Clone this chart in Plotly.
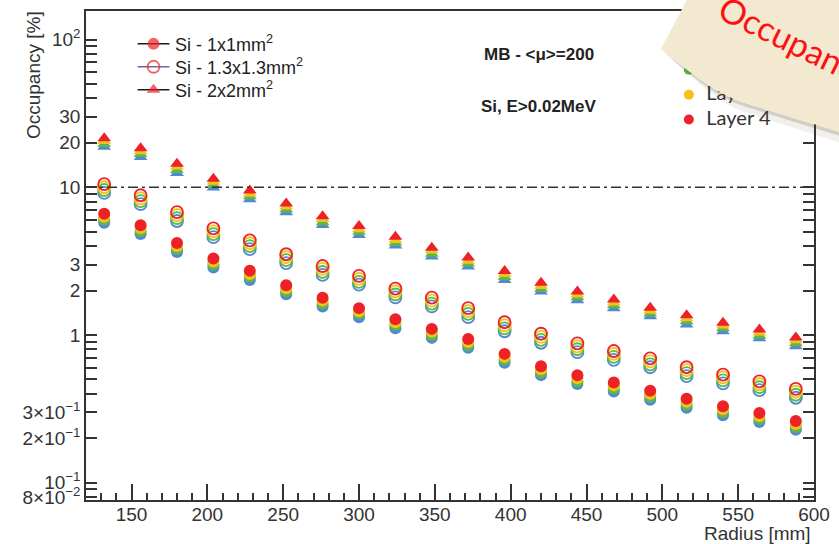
import math
import plotly.graph_objects as go

# ---------------------------------------------------------------- data
radius = [132, 156, 180, 204, 228, 252, 276, 300, 324, 348,
          372, 396, 420, 444, 468, 492, 516, 540, 564, 588]

layer_names = ["Layer 1", "Layer 2", "Layer 3", "Layer 4"]
layer_colors = ["#5288d4", "#5cb84a", "#f4c21a", "#ec2226"]

# occupancy [%], 1x1 mm^2 pixels
occ_1x1_l1 = [5.76, 4.83, 3.65, 2.86, 2.36, 1.89, 1.56, 1.32, 1.11, 0.956,
              0.819, 0.649, 0.535, 0.465, 0.415, 0.365, 0.322, 0.286, 0.258, 0.228]
occ_1x1_l2 = [6.03, 5.05, 3.82, 3.00, 2.48, 1.98, 1.63, 1.39, 1.17, 1.00,
              0.857, 0.679, 0.560, 0.487, 0.435, 0.382, 0.337, 0.300, 0.270, 0.238]
occ_1x1_l3 = [6.31, 5.29, 4.00, 3.14, 2.59, 2.07, 1.71, 1.45, 1.22, 1.05,
              0.898, 0.711, 0.586, 0.510, 0.456, 0.400, 0.353, 0.314, 0.283, 0.250]
occ_1x1_l4 = [6.61, 5.54, 4.19, 3.29, 2.72, 2.17, 1.79, 1.52, 1.28, 1.10,
              0.940, 0.745, 0.614, 0.534, 0.477, 0.419, 0.370, 0.329, 0.296, 0.262]

# occupancy [%], 1.3x1.3 mm^2 pixels
occ_13_l1 = [9.15, 7.70, 5.91, 4.59, 3.81, 3.07, 2.55, 2.19, 1.80, 1.56,
             1.32, 1.06, 0.886, 0.765, 0.679, 0.605, 0.527, 0.471, 0.423, 0.376]
occ_13_l2 = [9.58, 8.05, 6.19, 4.81, 3.99, 3.21, 2.67, 2.29, 1.88, 1.63,
             1.39, 1.11, 0.928, 0.801, 0.711, 0.633, 0.552, 0.493, 0.443, 0.394]
occ_13_l3 = [10.0, 8.42, 6.47, 5.03, 4.18, 3.36, 2.80, 2.40, 1.97, 1.71,
             1.45, 1.16, 0.972, 0.838, 0.744, 0.663, 0.578, 0.516, 0.464, 0.413]
occ_13_l4 = [10.5, 8.83, 6.78, 5.27, 4.37, 3.52, 2.93, 2.51, 2.06, 1.79,
             1.52, 1.22, 1.02, 0.878, 0.779, 0.694, 0.605, 0.540, 0.486, 0.432]

# occupancy [%], 2x2 mm^2 pixels
occ_2x2_l1 = [18.8, 16.0, 12.5, 9.95, 8.28, 6.77, 5.56, 4.75, 4.03, 3.40,
              2.91, 2.36, 1.97, 1.72, 1.52, 1.34, 1.18, 1.06, 0.95, 0.84]
occ_2x2_l2 = [19.6, 16.8, 13.1, 10.4, 8.68, 7.07, 5.80, 4.99, 4.21, 3.55,
              3.05, 2.47, 2.06, 1.80, 1.59, 1.40, 1.24, 1.11, 0.99, 0.88]
occ_2x2_l3 = [20.6, 17.5, 13.8, 10.9, 9.05, 7.40, 6.09, 5.20, 4.40, 3.73,
              3.18, 2.59, 2.15, 1.88, 1.66, 1.46, 1.30, 1.16, 1.04, 0.92]
occ_2x2_l4 = [21.5, 18.4, 14.4, 11.4, 9.5, 7.76, 6.37, 5.46, 4.62, 3.90,
              3.34, 2.71, 2.26, 1.97, 1.74, 1.53, 1.36, 1.21, 1.09, 0.96]

sensor_labels = ["Si - 1x1mm<sup>2</sup>", "Si - 1.3x1.3mm<sup>2</sup>", "Si - 2x2mm<sup>2</sup>"]
sensor_symbols = ["circle", "circle-open", "triangle-up"]
sensor_line_colors = ["#1a1a1a", "#5f6ea4", "#1a1a1a"]
sensor_series = [
    [occ_1x1_l1, occ_1x1_l2, occ_1x1_l3, occ_1x1_l4],
    [occ_13_l1, occ_13_l2, occ_13_l3, occ_13_l4],
    [occ_2x2_l1, occ_2x2_l2, occ_2x2_l3, occ_2x2_l4],
]

occupancy_limit = 10

y_tick_vals = [0.08, 0.1, 0.2, 0.3, 1, 2, 3, 10, 20, 30, 100]
y_tick_text = ["8×10<sup>−2</sup>", "10<sup>−1</sup>", "2×10<sup>−1</sup>", "3×10<sup>−1</sup>",
               "1", "2", "3", "10", "20", "30", "10<sup>2</sup>"]
y_minor_vals = [0.09, 0.4, 0.5, 0.6, 0.7, 0.8, 0.9, 4, 5, 6, 7, 8, 9,
                40, 50, 60, 70, 80, 90]
y_decades = [0.1, 1, 10, 100]

# ---------------------------------------------------------------- geometry helpers
FIG_W, FIG_H = 839, 544
ML, MR, MT, MB = 86, 20, 9, 44
PW = FIG_W - ML - MR
PH = FIG_H - MT - MB


def px(x):
    return (x - ML) / PW


def py(y):
    return (FIG_H - MB - y) / PH


def path_px(cmds):
    out = []
    for c in cmds:
        if isinstance(c, str):
            out.append(c)
        else:
            out.append(f"{px(c[0]):.4f},{py(c[1]):.4f}")
    return " ".join(out)


AX = "#333333"
FONT = "Liberation Sans"

fig = go.Figure()

# data points: layers stacked, layer 4 drawn last
for sym, series in zip(sensor_symbols, sensor_series):
    for name, col, vals in zip(layer_names, layer_colors, series):
        marker = dict(symbol=sym, size=12, color=col)
        if sym == "circle-open":
            marker["line"] = dict(width=1.8, color=col)
        else:
            marker["line"] = dict(width=0)
        fig.add_trace(go.Scatter(x=radius, y=vals, mode="markers", marker=marker,
                                 name=name, showlegend=False, hoverinfo="x+y"))

# key for the pixel sizes: short line with the marker in its middle
key_rows = [42, 65, 88]
for row, lab, sym, lc in zip(key_rows, sensor_labels, sensor_symbols, sensor_line_colors):
    m = dict(symbol=sym, size=[0, 12, 0], color=layer_colors[-1])
    if sym == "circle-open":
        m["line"] = dict(width=1.8, color=layer_colors[-1])
    else:
        m["line"] = dict(width=0)
    fig.add_trace(go.Scatter(x=[px(138), px(154), px(170)], y=[py(row)] * 3,
                             xaxis="x2", yaxis="y3", mode="lines+markers",
                             line=dict(color=lc, width=1.5), marker=m,
                             showlegend=False, hoverinfo="skip", cliponaxis=False))
    fig.add_annotation(xref="paper", yref="paper", x=px(174), y=py(row), text=lab,
                       xanchor="left", yanchor="middle", showarrow=False,
                       font=dict(family=FONT, size=18, color="#222"))

# layer key (in the plot frame so the note can lie on top of it)
key_x = [px(693)] * 4
key_y = [py(43), py(68), py(93), py(118)]
fig.add_trace(go.Scatter(x=key_x, y=key_y, xaxis="x2", yaxis="y3", mode="markers+text",
                         marker=dict(size=10, color=layer_colors),
                         text=["  " + n for n in layer_names], textposition="middle right",
                         textfont=dict(family="Lato", size=20, color="#333"),
                         showlegend=False, hoverinfo="skip", cliponaxis=False))

y_range = [math.log10(0.0764), math.log10(156)]

fig.update_layout(
    width=FIG_W, height=FIG_H,
    margin=dict(l=ML, r=MR, t=MT, b=MB),
    paper_bgcolor="white", plot_bgcolor="white",
    font=dict(family=FONT, color="#222"),
    showlegend=False,
    xaxis=dict(range=[120, 600], tick0=0, dtick=50, ticks="inside", ticklen=16,
               tickwidth=1.5, tickcolor=AX, showline=True, linecolor=AX, linewidth=1.5,
               mirror=True, showgrid=False, zeroline=False, ticklabelstandoff=-4,
               tickfont=dict(family=FONT, size=19, color="#333"),
               minor=dict(dtick=10, ticks="inside", ticklen=7, tickwidth=1.5, tickcolor=AX)),
    yaxis=dict(type="log", range=y_range, tickmode="array", tickvals=y_tick_vals,
               ticktext=y_tick_text, ticks="inside", ticklen=11, tickwidth=1.5,
               tickcolor=AX, showline=True, linecolor=AX, linewidth=1.5, mirror="ticks",
               showgrid=False, zeroline=False,
               tickfont=dict(family=FONT, size=19, color="#333"),
               minor=dict(tickmode="array", tickvals=y_minor_vals, ticks="inside",
                          ticklen=11, tickwidth=1.5, tickcolor=AX)),
    yaxis2=dict(type="log", range=y_range, overlaying="y", side="left", anchor="x",
                tickmode="array", tickvals=y_decades, ticks="inside", ticklen=22,
                tickwidth=1.5, tickcolor=AX, showticklabels=False, showline=False,
                showgrid=False, zeroline=False, mirror="ticks"),
    xaxis2=dict(range=[0, 1], overlaying="x", visible=False),
    yaxis3=dict(range=[0, 1], overlaying="y", visible=False),
)

# occupancy limit
fig.add_shape(type="line", xref="paper", x0=0, x1=1, yref="y", y0=occupancy_limit,
              y1=occupancy_limit, line=dict(color=AX, width=1.5, dash="10px,4px,3px,4px"))

# sticky note with its shadow
shadow2 = path_px(["M", (665, 47), "Q", (716, 98), (747, 110), "L", (860, 146),
                   "L", (860, 135), "L", (745, 100), "Q", (715, 90), (665, 47), "Z"])
shadow1 = path_px(["M", (665, 47), "Q", (715, 94), (746, 104), "L", (860, 139),
                   "L", (860, 135), "L", (745, 100), "Q", (715, 90), (665, 47), "Z"])
note = path_px(["M", (665, 47), "L", (693, -6), "L", (860, -6), "L", (860, 135),
                "L", (745, 100), "Q", (715, 90), (665, 47), "Z"])
fig.add_shape(type="path", xref="paper", yref="paper", path=shadow2,
              fillcolor="rgba(80,60,30,0.08)", line=dict(width=0), layer="above")
fig.add_shape(type="path", xref="paper", yref="paper", path=shadow1,
              fillcolor="rgba(80,60,30,0.18)", line=dict(width=0), layer="above")
fig.add_shape(type="path", xref="paper", yref="paper", path=note,
              fillcolor="#f2e9d0", line=dict(width=0), layer="above")

annotations = [
    dict(text="<b>MB - &lt;μ&gt;=200</b>", x=px(542), y=py(53),
         font=dict(family=FONT, size=17, color="#222")),
    dict(text="<b>Si, E>0.02MeV</b>", x=px(542), y=py(105),
         font=dict(family=FONT, size=17, color="#222")),
    dict(text="Occupancy [%]", x=px(33), y=py(73), textangle=-90,
         font=dict(family=FONT, size=19, color="#333")),
    dict(text="Radius [mm]", x=px(818), y=py(534), xanchor="right",
         font=dict(family=FONT, size=19, color="#333")),
    dict(text="Occupancy", x=px(801), y=py(40), textangle=26,
         font=dict(family="Lato", size=34, color="#ff1010")),
]
for a in annotations:
    a.setdefault("xanchor", "center")
    fig.add_annotation(xref="paper", yref="paper", yanchor="middle", showarrow=False, **a)

fig.write_html("out.html")
